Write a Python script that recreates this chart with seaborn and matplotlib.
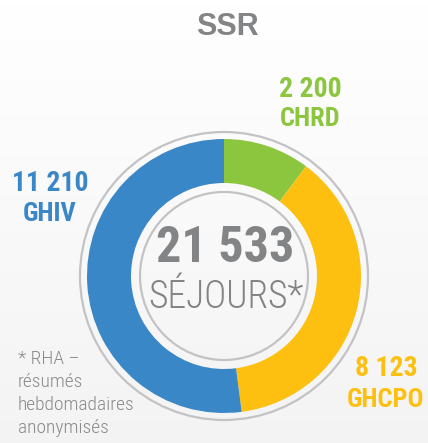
import numpy as np
import matplotlib
matplotlib.use('Agg')
import matplotlib.pyplot as plt
import seaborn as sns

# data
etabs = ['CHRD', 'GHCPO', 'GHIV']
sejours = [2200, 8123, 11210]
couleurs = ['#8cc63f', '#fdc010', '#3a87c8']
titre = 'SSR'
note = '* RHA –\nrésumés\nhebdomadaires\nanonymisés'

sns.set_theme(style='white')
plt.rcParams['font.family'] = ['Roboto Condensed', 'Roboto', 'DejaVu Sans']

W, H = 428, 443
fig = plt.figure(figsize=(W / 100, H / 100), dpi=100)
ax = fig.add_axes([0, 0, 1, 1])

def fmt(n):
    return f'{n:,}'.replace(',', ' ')

# fond legerement degrade
grad = np.linspace(1.0, 0.955, 100).reshape(-1, 1)
ax.imshow(np.dstack([grad, grad, grad]), extent=(0, W, 0, H), aspect='auto', zorder=0,
          origin='upper')

cx, cy = 224, H - 276
ax.pie(sejours, colors=couleurs, startangle=90, counterclock=False, radius=137,
       center=(cx, cy), wedgeprops=dict(width=137 - 93, edgecolor='none', linewidth=0))
for r in (144, 84):
    ax.add_patch(plt.Circle((cx, cy), r, fill=False, color='#c3c3c6', lw=1.6, zorder=3))

ax.set_xlim(0, W)
ax.set_ylim(0, H)
ax.set_aspect('auto')
ax.axis('off')

gris = '#838486'
ax.text(W / 2 + 13, H - 27, titre, ha='center', va='center', fontsize=22, color=gris,
        fontweight='bold', family=['Liberation Sans', 'DejaVu Sans'])

ax.text(cx + 1, H - 249, fmt(sum(sejours)), ha='center', va='center', fontsize=36,
        color=gris, fontweight='bold')
ax.text(cx + 2, H - 297, 'SÉJOURS*', ha='center', va='center', fontsize=27, color=gris,
        fontweight='light')

pos = {'CHRD': (310, 89, 119), 'GHCPO': (386, 369, 400), 'GHIV': (50, 183, 214)}
for e, v, c in zip(etabs, sejours, couleurs):
    x, y1, y2 = pos[e]
    ax.text(x, H - y1, fmt(v), ha='center', va='center', fontsize=20, color=c, fontweight='bold')
    ax.text(x, H - y2, e, ha='center', va='center', fontsize=19, color=c, fontweight='bold')

ax.text(18, H - 350, note, ha='left', va='top', fontsize=14, color='#8a8a8c',
        linespacing=1.36, fontweight='light')

fig.savefig('out.png', dpi=100)
